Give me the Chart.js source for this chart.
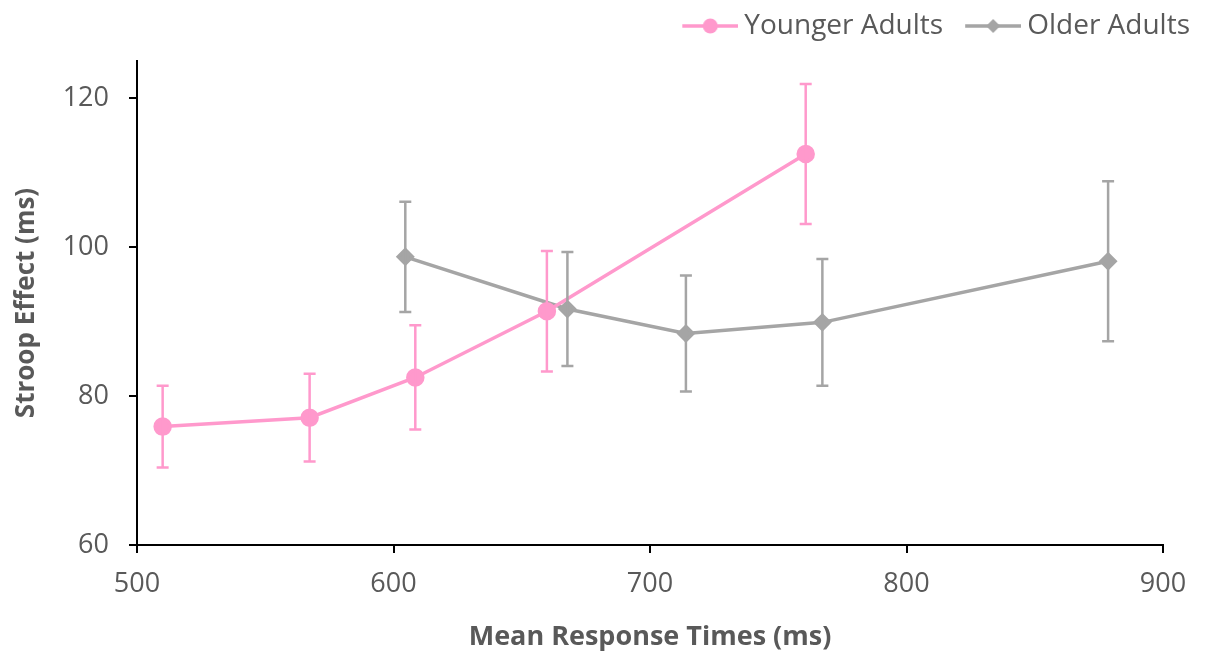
<!DOCTYPE html>
<html lang="en">
<head>
    <meta charset="UTF-8">
    <title>Stroop Effect vs Mean Response Times</title>
    <script src="https://cdn.jsdelivr.net/npm/chart.js"></script>
    <style>
        html, body {
            margin: 0;
            padding: 0;
            background: #ffffff;
        }
        #wrap {
            width: 1205px;
            height: 661px;
        }
    </style>
</head>
<body>
    <div id="wrap"><canvas id="chart" width="1205" height="661"></canvas></div>

    <script>
        // group means and error bar half-lengths
        const youngRT = [510, 567.3, 608.5, 659.8, 760.7];
        const youngStroop = [75.9, 77.1, 82.5, 91.4, 112.5];
        const youngErr = [5.5, 5.9, 7.0, 8.1, 9.4];

        const olderRT = [604.6, 667.8, 714, 767.2, 878.6];
        const olderStroop = [98.7, 91.7, 88.4, 89.9, 98.1];
        const olderErr = [7.4, 7.65, 7.8, 8.5, 10.75];

        const xTicks = [500, 600, 700, 800, 900];
        const yTicks = [60, 80, 100, 120];

        const PINK = '#ff99cc';
        const GREY = '#a5a5a5';
        const TEXT = '#595959';
        const FONT = "'Open Sans', sans-serif";

        function toPoints(xs, ys, errs) {
            return xs.map((x, i) => ({ x: x, y: ys[i], err: errs[i] }));
        }

        // line + marker swatch for the legend; left part is blank so the
        // swatch sits closer to its label
        function swatch(color, style) {
            const c = document.createElement('canvas');
            c.width = 76;
            c.height = 18;
            const g = c.getContext('2d');
            g.strokeStyle = color;
            g.fillStyle = color;
            g.lineWidth = 3.5;
            g.beginPath();
            g.moveTo(20, 9);
            g.lineTo(76, 9);
            g.stroke();
            g.beginPath();
            if (style === 'circle') {
                g.arc(48, 9, 7.5, 0, Math.PI * 2);
            } else {
                g.moveTo(48, 2);
                g.lineTo(55, 9);
                g.lineTo(48, 16);
                g.lineTo(41, 9);
                g.closePath();
            }
            g.fill();
            return c;
        }
        const swatches = [swatch(PINK, 'circle'), swatch(GREY, 'diamond')];

        // legend sits above and a bit to the right of the plot area
        const legendShift = {
            id: 'legendShift',
            afterLayout(chart) {
                const lg = chart.legend;
                lg.left += 37;
                lg.right += 37;
                lg.top -= 11;
                lg.bottom -= 11;
            }
        };

        const errorBars = {
            id: 'errorBars',
            afterDatasetsDraw(chart) {
                const ctx = chart.ctx;
                const xs = chart.scales.x;
                const ys = chart.scales.y;
                chart.data.datasets.forEach(ds => {
                    ctx.save();
                    ctx.strokeStyle = ds.borderColor;
                    ctx.lineWidth = 2.5;
                    ds.data.forEach(p => {
                        const px = xs.getPixelForValue(p.x);
                        const top = ys.getPixelForValue(p.y + p.err);
                        const bot = ys.getPixelForValue(p.y - p.err);
                        ctx.beginPath();
                        ctx.moveTo(px, top);
                        ctx.lineTo(px, bot);
                        ctx.moveTo(px - 6, top);
                        ctx.lineTo(px + 6, top);
                        ctx.moveTo(px - 6, bot);
                        ctx.lineTo(px + 6, bot);
                        ctx.stroke();
                    });
                    ctx.restore();
                });
            }
        };

        const ctx = document.getElementById('chart').getContext('2d');
        new Chart(ctx, {
            type: 'scatter',
            data: {
                datasets: [
                    {
                        label: 'Younger Adults',
                        data: toPoints(youngRT, youngStroop, youngErr),
                        showLine: true,
                        borderColor: PINK,
                        backgroundColor: PINK,
                        borderWidth: 3.5,
                        pointStyle: 'circle',
                        pointRadius: 7.5,
                        pointHoverRadius: 7.5
                    },
                    {
                        label: 'Older Adults',
                        data: toPoints(olderRT, olderStroop, olderErr),
                        showLine: true,
                        borderColor: GREY,
                        backgroundColor: GREY,
                        borderWidth: 3.5,
                        pointStyle: 'rectRot',
                        pointRadius: 7,
                        pointHoverRadius: 7
                    }
                ]
            },
            options: {
                responsive: false,
                animation: false,
                layout: {
                    padding: { top: 13, right: 42, bottom: 0, left: 0 }
                },
                scales: {
                    x: {
                        type: 'linear',
                        min: 500,
                        max: 900,
                        afterBuildTicks: s => { s.ticks = xTicks.map(v => ({ value: v })); },
                        afterFit: s => { s.height = 116; },
                        border: { color: '#000000', width: 2 },
                        grid: { drawOnChartArea: false, color: '#000000', lineWidth: 2, tickLength: 8 },
                        ticks: { color: TEXT, font: { family: FONT, size: 27 }, padding: 15, maxRotation: 0 },
                        title: {
                            display: true,
                            text: 'Mean Response Times (ms)',
                            color: TEXT,
                            font: { family: FONT, size: 27, weight: 'bold', lineHeight: 1.2 },
                            padding: { top: 0, bottom: 7 }
                        }
                    },
                    y: {
                        min: 60,
                        max: 125,
                        afterBuildTicks: s => { s.ticks = yTicks.map(v => ({ value: v })); },
                        afterFit: s => { s.width = 137; },
                        border: { color: '#000000', width: 2 },
                        grid: { drawOnChartArea: false, color: '#000000', lineWidth: 2, tickLength: 8 },
                        ticks: { color: TEXT, font: { family: FONT, size: 27 }, padding: 20 },
                        title: {
                            display: true,
                            text: 'Stroop Effect (ms)',
                            color: TEXT,
                            font: { family: FONT, size: 26, weight: 'bold', lineHeight: 1.2 },
                            padding: { top: 11, bottom: 0 }
                        }
                    }
                },
                plugins: {
                    tooltip: { enabled: false },
                    legend: {
                        position: 'top',
                        align: 'end',
                        labels: {
                            color: TEXT,
                            font: { family: FONT, size: 28 },
                            usePointStyle: true,
                            pointStyleWidth: 60,
                            padding: 10,
                            generateLabels: chart => {
                                const items = Chart.defaults.plugins.legend.labels.generateLabels(chart);
                                items.forEach((it, i) => { it.pointStyle = swatches[i]; });
                                return items;
                            }
                        }
                    }
                }
            },
            plugins: [legendShift, errorBars]
        });
    </script>
</body>
</html>
